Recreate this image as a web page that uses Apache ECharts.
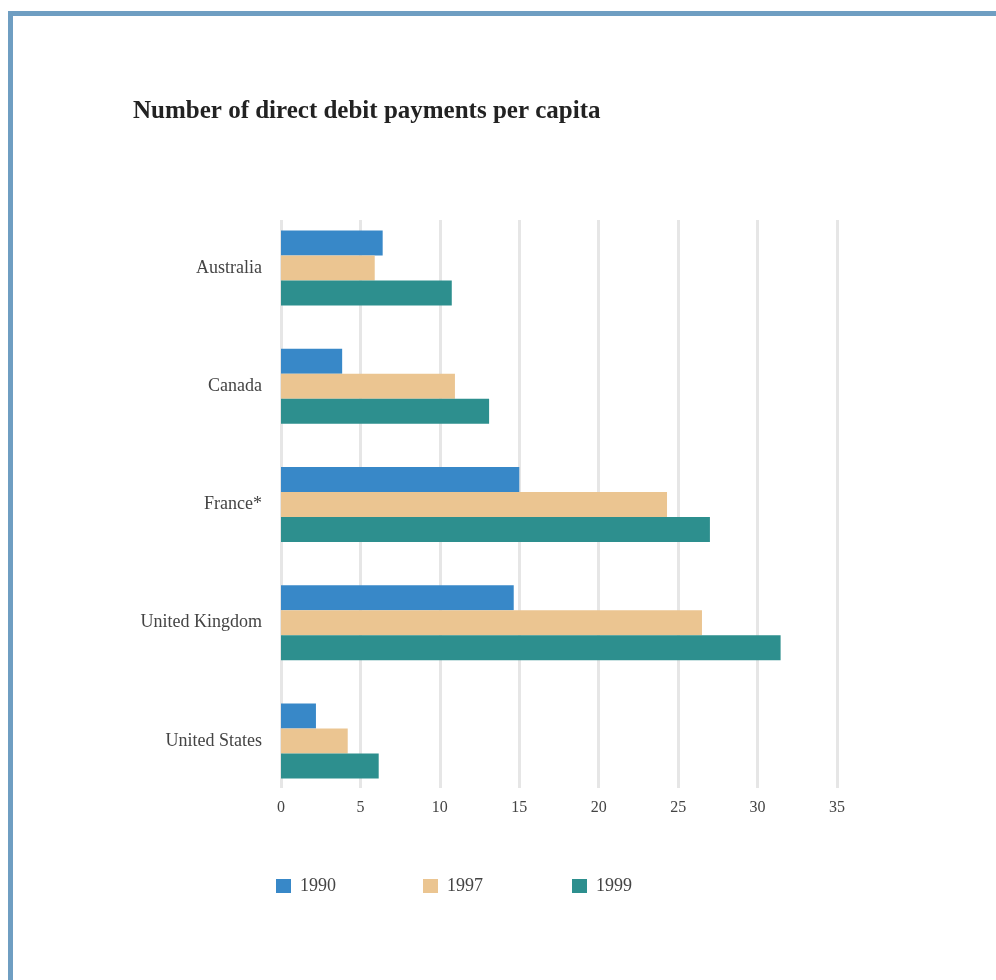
<!DOCTYPE html>
<html>
<head>
<meta charset="utf-8">
<script src="https://cdn.jsdelivr.net/npm/echarts@6/dist/echarts.min.js"></script>
<style>
html,body{margin:0;padding:0;background:#fff;}
#c{width:996px;height:980px;}
</style>
</head>
<body>
<div id="c"></div>
<script>
const categories = ['Australia', 'Canada', 'France*', 'United Kingdom', 'United States'];
const seriesNames = ['1990', '1997', '1999'];
const values1990 = [6.4, 3.85, 15.0, 14.65, 2.2];
const values1997 = [5.9, 10.95, 24.3, 26.5, 4.2];
const values1999 = [10.75, 13.1, 27.0, 31.45, 6.15];
const xTicks = [0, 5, 10, 15, 20, 25, 30, 35];
const colors = ['#3888c8', '#ebc591', '#2d8f8e'];

const serif = '"Liberation Serif", "DejaVu Serif", serif';
const chart = echarts.init(document.getElementById('c'), null, {renderer: 'canvas'});
const allValues = [values1990, values1997, values1999];

chart.setOption({
  animation: false,
  backgroundColor: '#ffffff',
  title: {
    text: 'Number of direct debit payments per capita',
    left: 133, top: 99, padding: 0,
    textStyle: {fontFamily: serif, fontSize: 25, fontWeight: 'bold', color: '#222222'}
  },
  graphic: [
    {type: 'rect', shape: {x: 8, y: 11, width: 988, height: 5}, style: {fill: '#6f9ec2'}, z: 100},
    {type: 'rect', shape: {x: 8, y: 11, width: 5, height: 969}, style: {fill: '#6f9ec2'}, z: 100}
  ],
  legend: seriesNames.map((n, i) => ({
    data: [n],
    left: [276, 423, 572][i],
    top: 877, padding: 0,
    itemWidth: 15, itemHeight: 14, itemGap: 0,
    icon: 'rect',
    textStyle: {fontFamily: serif, fontSize: 18, color: '#444444', padding: [0, 0, 0, 4]}
  })),
  grid: [
    {left: 281, right: 159, top: 209, bottom: 180},
    {left: 281, right: 159, top: 220, bottom: 192}
  ],
  xAxis: [
    {type: 'value', gridIndex: 0, min: xTicks[0], max: xTicks[xTicks.length - 1], interval: 5,
      show: false, splitLine: {show: false}},
    {type: 'value', gridIndex: 1, min: xTicks[0], max: xTicks[xTicks.length - 1], interval: 5,
      axisLine: {show: false}, axisTick: {show: false},
      splitLine: {show: true, lineStyle: {color: '#e6e6e6', width: 3}},
      axisLabel: {margin: 12, fontFamily: serif, fontSize: 16, color: '#444444'}}
  ],
  yAxis: [
    {type: 'category', gridIndex: 0, data: categories, inverse: true,
      axisLine: {show: false}, axisTick: {show: false}, splitLine: {show: false},
      axisLabel: {margin: 19, fontFamily: serif, fontSize: 18, color: '#444444'}},
    {type: 'category', gridIndex: 1, data: categories, show: false}
  ],
  series: seriesNames.map((n, i) => ({
    name: n,
    type: 'bar',
    xAxisIndex: 0, yAxisIndex: 0,
    data: allValues[i],
    barWidth: 25,
    barGap: '0%',
    itemStyle: {color: colors[i]}
  }))
});
</script>
</body>
</html>
